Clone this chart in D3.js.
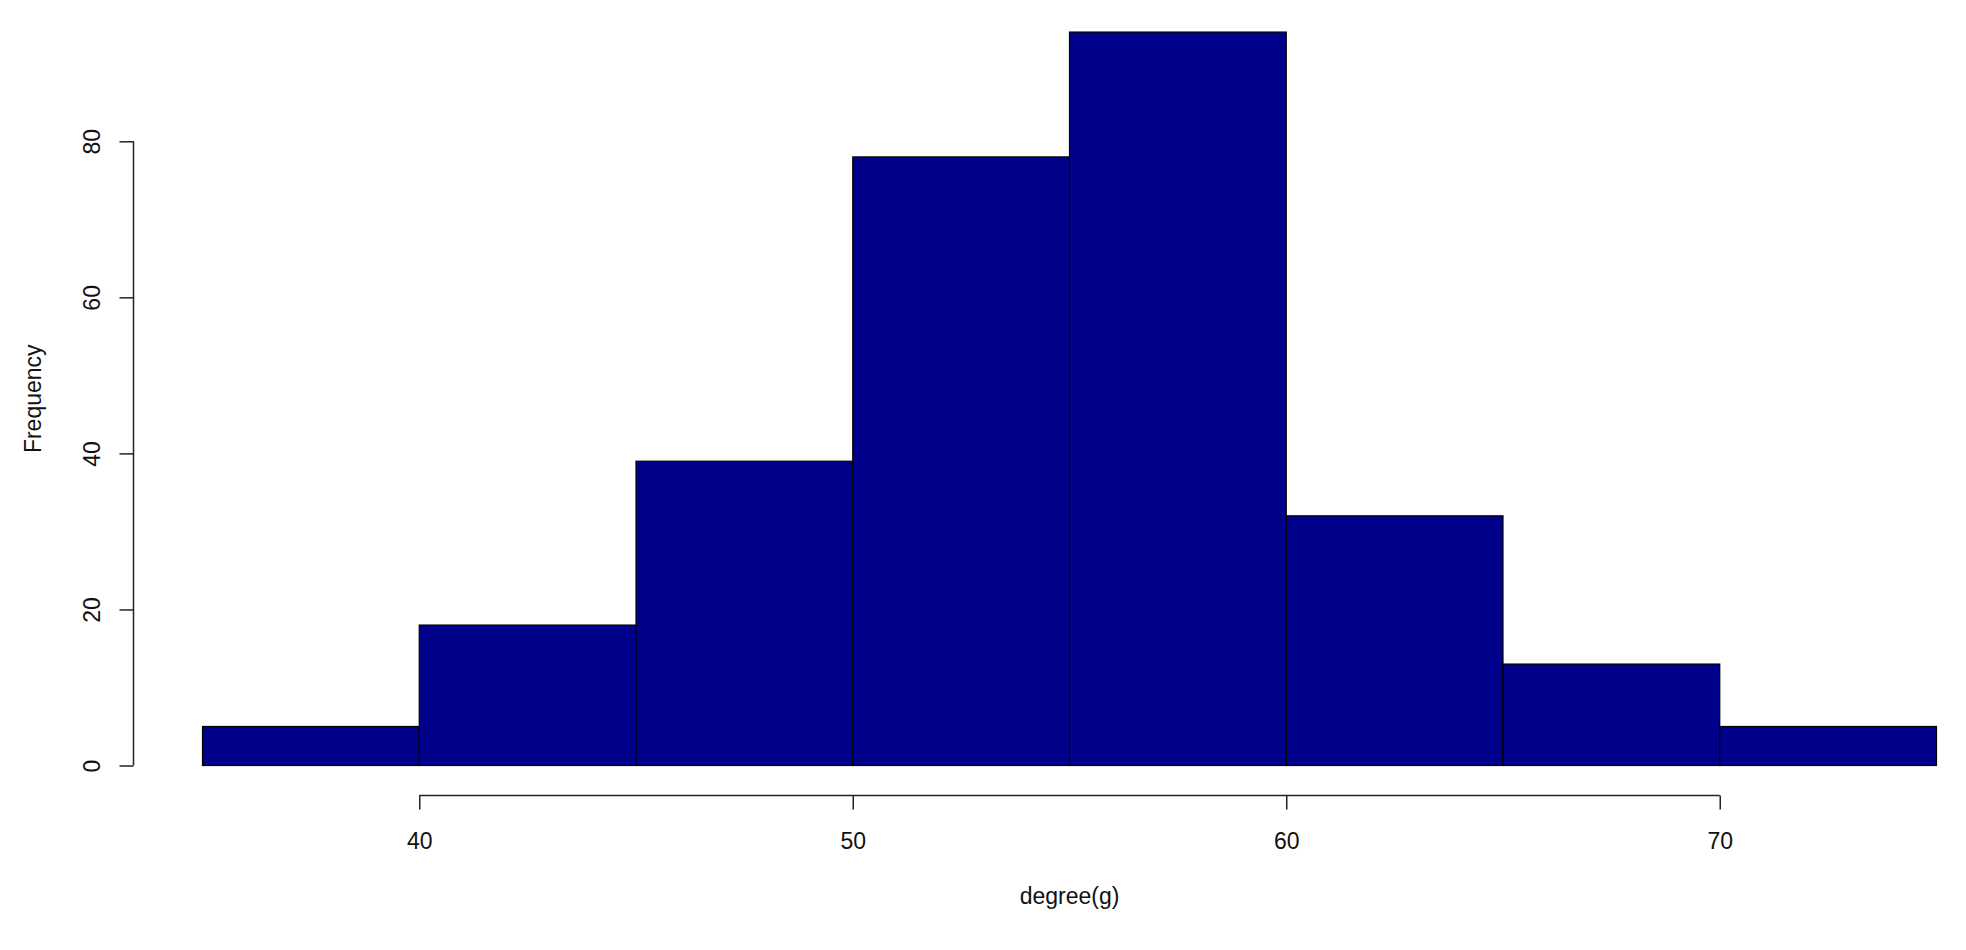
<!DOCTYPE html>
<html>
<head>
<meta charset="utf-8">
<script src="https://cdn.jsdelivr.net/npm/d3@7"></script>
<style>
	body { margin: 0; background: #fff; }
	text { font-family: Arial, "Liberation Sans", sans-serif; fill: #111; }
</style>
</head>
<body>
<div id="hist"></div>
<script>
// histogram of degree(g): bin edges and counts
const binStarts = [35, 40, 45, 50, 55, 60, 65, 70];
const binWidth = 5;
const counts = [5, 18, 39, 78, 94, 32, 13, 5];
const xTicks = [40, 50, 60, 70];
const yTicks = [0, 20, 40, 60, 80];

const W = 1966, H = 950;
const fontSize = 23;
const axisColor = "#222";

const svg = d3.select("#hist")
	.append("svg")
	.attr("width", W)
	.attr("height", H);

const x = d3.scaleLinear().domain([35, 75]).range([202.5, 1936.5]);
const y = d3.scaleLinear().domain([0, 80]).range([765.5, 141.3]);

const axisX = 133.5;
const axisY = 795.5;

// bars
svg.append("g")
	.selectAll("rect")
	.data(binStarts)
	.enter()
	.append("rect")
	.attr("x", d => x(d))
	.attr("width", d => x(d + binWidth) - x(d))
	.attr("y", (d, i) => y(counts[i]))
	.attr("height", (d, i) => y(0) - y(counts[i]))
	.attr("fill", "#00008B")
	.attr("stroke", "#000")
	.attr("stroke-width", 1.2);

// y axis
const gy = svg.append("g")
	.attr("transform", `translate(${axisX},0)`)
	.call(d3.axisLeft(y).tickValues(yTicks).tickSize(14).tickSizeOuter(0));
gy.select(".domain").remove();
gy.append("line")
	.attr("y1", y(yTicks[0]))
	.attr("y2", y(yTicks[yTicks.length - 1]))
	.attr("stroke", axisColor)
	.attr("stroke-width", 1.5);
gy.selectAll(".tick line").attr("stroke", axisColor).attr("stroke-width", 1.5);
gy.selectAll(".tick text")
	.attr("x", 0)
	.attr("dy", "0.35em")
	.attr("transform", `translate(${92 - axisX},0) rotate(-90)`)
	.attr("text-anchor", "middle")
	.style("font-size", fontSize + "px");

// x axis
const gx = svg.append("g")
	.attr("transform", `translate(0,${axisY})`)
	.call(d3.axisBottom(x).tickValues(xTicks).tickSize(14).tickSizeOuter(0));
gx.select(".domain").remove();
gx.append("line")
	.attr("x1", x(xTicks[0]))
	.attr("x2", x(xTicks[xTicks.length - 1]))
	.attr("stroke", axisColor)
	.attr("stroke-width", 1.5);
gx.selectAll(".tick line").attr("stroke", axisColor).attr("stroke-width", 1.5);
gx.selectAll(".tick text")
	.attr("y", 53)
	.attr("dy", null)
	.style("font-size", fontSize + "px");

// axis titles
svg.append("text")
	.attr("x", x(55))
	.attr("y", 904)
	.attr("text-anchor", "middle")
	.style("font-size", fontSize + "px")
	.text("degree(g)");

svg.append("text")
	.attr("transform", `translate(41,${y(47)}) rotate(-90)`)
	.attr("text-anchor", "middle")
	.style("font-size", fontSize + "px")
	.text("Frequency");
</script>
</body>
</html>
